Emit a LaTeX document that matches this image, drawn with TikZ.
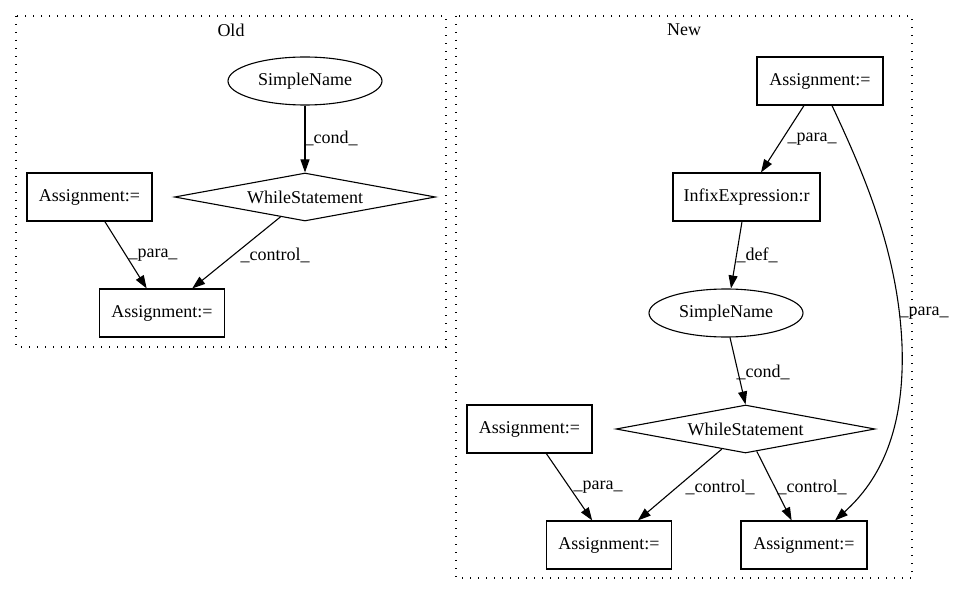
\documentclass[tikz,border=0pt]{standalone}
\usepackage{fontspec}
\setmainfont{Liberation Serif}
\usetikzlibrary{shapes.geometric,arrows.meta}
\begin{document}
\begin{tikzpicture}[x=1pt,y=-1pt,
  every node/.style={font=\fontsize{18}{21}\selectfont},
  box/.style={draw,line width=1.1pt,rectangle,minimum width=125pt,minimum height=48pt,inner sep=0pt},
  ell/.style={draw,line width=1.1pt,ellipse,minimum width=154pt,minimum height=48pt,inner sep=0pt},
  dia/.style={draw,line width=1.1pt,diamond,aspect=5.4,minimum width=261pt,minimum height=48pt,inner sep=0pt},
  cluster/.style={line width=1.2pt,dash pattern=on 1.3pt off 6.7pt},
  edge/.style={line width=1.1pt,-{Triangle[length=13pt,width=9pt]}},
  lbl/.style={inner sep=0pt}]
\useasboundingbox (0,0) rectangle (955,596);
% clusters
\draw[cluster] (16,16) rectangle (446,347);
\draw[cluster] (456,16) rectangle (912,578);
\node[lbl] (oldt) at (231,30) {Old};
\node[lbl] (newt) at (684,30) {New};
% old nodes
\node[ell] (osn) at (305,81) {SimpleName};
\node[dia] (ows) at (305,197) {WhileStatement};
\node[box] (oa1) at (89.5,197) {Assignment:=};
\node[box] (oa2) at (162,313) {Assignment:=};
% new nodes
\node[box,minimum width=126pt] (na1) at (820,81) {Assignment:=};
\node[box,minimum width=147pt] (nie) at (746.5,197) {InfixExpression:r};
\node[ell] (nsn) at (726,313) {SimpleName};
\node[dia,minimum width=259pt] (nws) at (745.5,429) {WhileStatement};
\node[box] (na2) at (529.5,429) {Assignment:=};
\node[box] (na3) at (609,545) {Assignment:=};
\node[box,minimum width=126pt] (na4) at (804,545) {Assignment:=};
% old edges
\draw[edge] (osn) -- (ows);
\draw[edge] (oa1) -- (oa2);
\draw[edge] (ows) -- (oa2);
\node[lbl] (l1) at (331,138) {\_cond\_};
\node[lbl] (l2) at (153,255) {\_para\_};
\node[lbl] (l3) at (275,255) {\_control\_};
% new edges
\draw[edge] ([xshift=-16pt]na1.south) -- ([xshift=14.5pt]nie.north);
\draw[edge] ([xshift=-4.5pt]nie.south) -- ([xshift=5pt]nsn.south |- nsn.north);
\draw[edge] ([xshift=4pt]nsn.south) -- (nws.north);
\draw[edge] (na2) -- (na3);
\draw[edge] (nws) -- (na3);
\draw[edge] (nws) -- (na4);
\draw[edge] ([xshift=12pt]na1.south) .. controls (862,170) and (898,250) .. (902,345) .. controls (905,430) and (880,480) .. ([xshift=31pt]na4.north);
\node[lbl] (l4) at (812,139) {\_para\_};
\node[lbl] (l5) at (757,255) {\_def\_};
\node[lbl] (l6) at (763,372) {\_cond\_};
\node[lbl] (l7) at (598,487) {\_para\_};
\node[lbl] (l8) at (720,487) {\_control\_};
\node[lbl] (l9) at (812,487) {\_control\_};
\node[lbl] (l10) at (924,313) {\_para\_};
\end{tikzpicture}
\end{document}
